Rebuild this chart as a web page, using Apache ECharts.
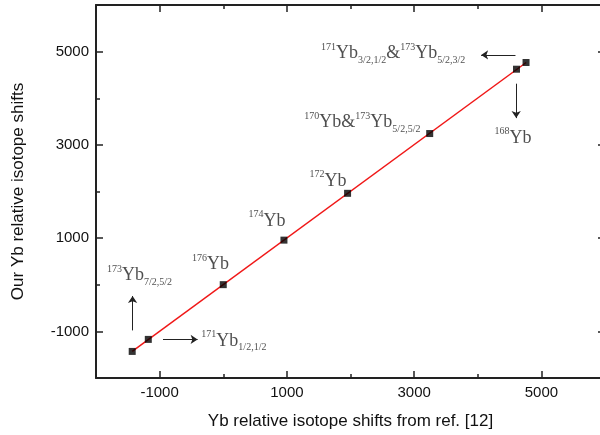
<!DOCTYPE html>
<html>
<head>
<meta charset="utf-8">
<script src="https://cdn.jsdelivr.net/npm/echarts@6/dist/echarts.min.js"></script>
<style>
    html, body { margin: 0; padding: 0; background: #fff; }
    #chart { width: 600px; height: 435px; }
</style>
</head>
<body>
<div id="chart"></div>
<script>
'use strict';

// isotope shifts: ref. [12] (x) vs ours (y)
var isotopes = ['173Yb 7/2,5/2', '171Yb 1/2,1/2', '176Yb', '174Yb', '172Yb', '170Yb&173Yb 5/2,5/2', '168Yb', '171Yb&173Yb 3/2,1/2'];
var refShift = [-1431, -1178, 0, 954, 1954, 3245, 4609, 4759];
var ourShift = [-1430, -1172, 2, 957, 1961, 3243, 4623, 4767];

// fitted straight line (end points)
var fitX = [-1431, 4761];
var fitY = [-1430, 4767];

var tickLabels = [-1000, 1000, 3000, 5000];

// text annotations: [x, y, rich text]
var noteX = [-1827, -344, -491, 395, 1354, 1275, 1538, 4263];
var noteY = [200, -1209, 430, 1360, 2220, 3480, 4960, 3144];
var noteText = [
    '{sup|173}{yb|Yb}{sub|7/2,5/2}',
    '{sup|171}{yb|Yb}{sub|1/2,1/2}',
    '{sup|176}{yb|Yb}',
    '{sup|174}{yb|Yb}',
    '{sup|172}{yb|Yb}',
    '{sup|170}{yb|Yb&}{sup|173}{yb|Yb}{sub|5/2,5/2}',
    '{sup|171}{yb|Yb}{sub|3/2,1/2}{yb|&}{sup|173}{yb|Yb}{sub|5/2,3/2}',
    '{sup|168}{yb|Yb}'
];

// arrows: [x1, y1, x2, y2]
var arrows = [
    [-1425, -979, -1425, -241],
    [-947, -1172, -403, -1172],
    [4593, 4929, 4053, 4929],
    [4604, 4312, 4604, 3574]
];

var points = [];
for (var i = 0; i < refShift.length; i++) {
    points.push({name: isotopes[i], value: [refShift[i], ourShift[i]]});
}
var fitData = [];
for (var i = 0; i < fitX.length; i++) {
    fitData.push([fitX[i], fitY[i]]);
}
var notes = [];
for (var i = 0; i < noteX.length; i++) {
    notes.push({value: [noteX[i], noteY[i]], text: noteText[i]});
}
var arrowData = [];
for (var i = 0; i < arrows.length; i++) {
    arrowData.push({coords: [[arrows[i][0], arrows[i][1]], [arrows[i][2], arrows[i][3]]]});
}

function makeAxis(pos, withLabel, name) {
    var axis = {
        type: 'value',
        position: pos,
        min: -2000,
        max: 6000,
        interval: 2000,
        splitLine: {show: false},
        axisLine: {show: true, onZero: false, lineStyle: {color: '#222', width: 2}},
        axisTick: {show: true, inside: true, length: 4, lineStyle: {color: '#222', width: 1.5}},
        minorTick: {show: true, splitNumber: 2, length: 7, lineStyle: {color: '#222', width: 1.5}},
        axisLabel: {show: false}
    };
    if (withLabel) {
        axis.axisLabel = {
            show: true,
            customValues: tickLabels,
            margin: 7,
            color: '#111',
            fontSize: 15,
            fontFamily: 'Liberation Sans',
            formatter: function (v) { return String(v); }
        };
        axis.name = name;
        axis.nameLocation = 'middle';
        axis.nameTextStyle = {color: '#111', fontSize: 17, fontFamily: 'Liberation Sans'};
    }
    return axis;
}

var xBottom = makeAxis('bottom', true, 'Yb relative isotope shifts from ref. [12]');
xBottom.nameGap = 35;
var yLeft = makeAxis('left', true, 'Our Yb relative isotope shifts');
yLeft.nameGap = 69;

var myChart = echarts.init(document.getElementById('chart'), null, {renderer: 'canvas'});
myChart.setOption({
    animation: false,
    backgroundColor: '#fff',
    grid: {
        left: 96,
        right: -5,
        top: 5,
        bottom: 57,
        containLabel: false,
        outerBoundsMode: 'none'
    },
    xAxis: [xBottom, makeAxis('top', false)],
    yAxis: [yLeft, makeAxis('right', false)],
    series: [
        {
            type: 'line',
            data: fitData,
            symbol: 'none',
            lineStyle: {color: '#f01818', width: 1.5},
            z: 2
        },
        {
            type: 'scatter',
            data: points,
            symbol: 'rect',
            symbolSize: 7,
            itemStyle: {color: '#000'},
            z: 3
        },
        {
            type: 'lines',
            coordinateSystem: 'cartesian2d',
            data: arrowData,
            symbol: ['none', 'arrow'],
            symbolSize: [5, 7],
            lineStyle: {color: '#222', width: 1, opacity: 1},
            z: 4
        },
        {
            type: 'scatter',
            data: notes,
            symbolSize: 0,
            silent: true,
            label: {
                show: true,
                position: 'right',
                distance: 0,
                formatter: function (p) { return p.data.text; },
                rich: {
                    yb: {fontFamily: 'Liberation Serif', fontSize: 18, color: '#222', lineHeight: 23},
                    sup: {fontFamily: 'Liberation Serif', fontSize: 10, color: '#222', verticalAlign: 'top'},
                    sub: {fontFamily: 'Liberation Serif', fontSize: 10, color: '#222', verticalAlign: 'bottom'}
                }
            },
            z: 5
        }
    ]
});
</script>
</body>
</html>
